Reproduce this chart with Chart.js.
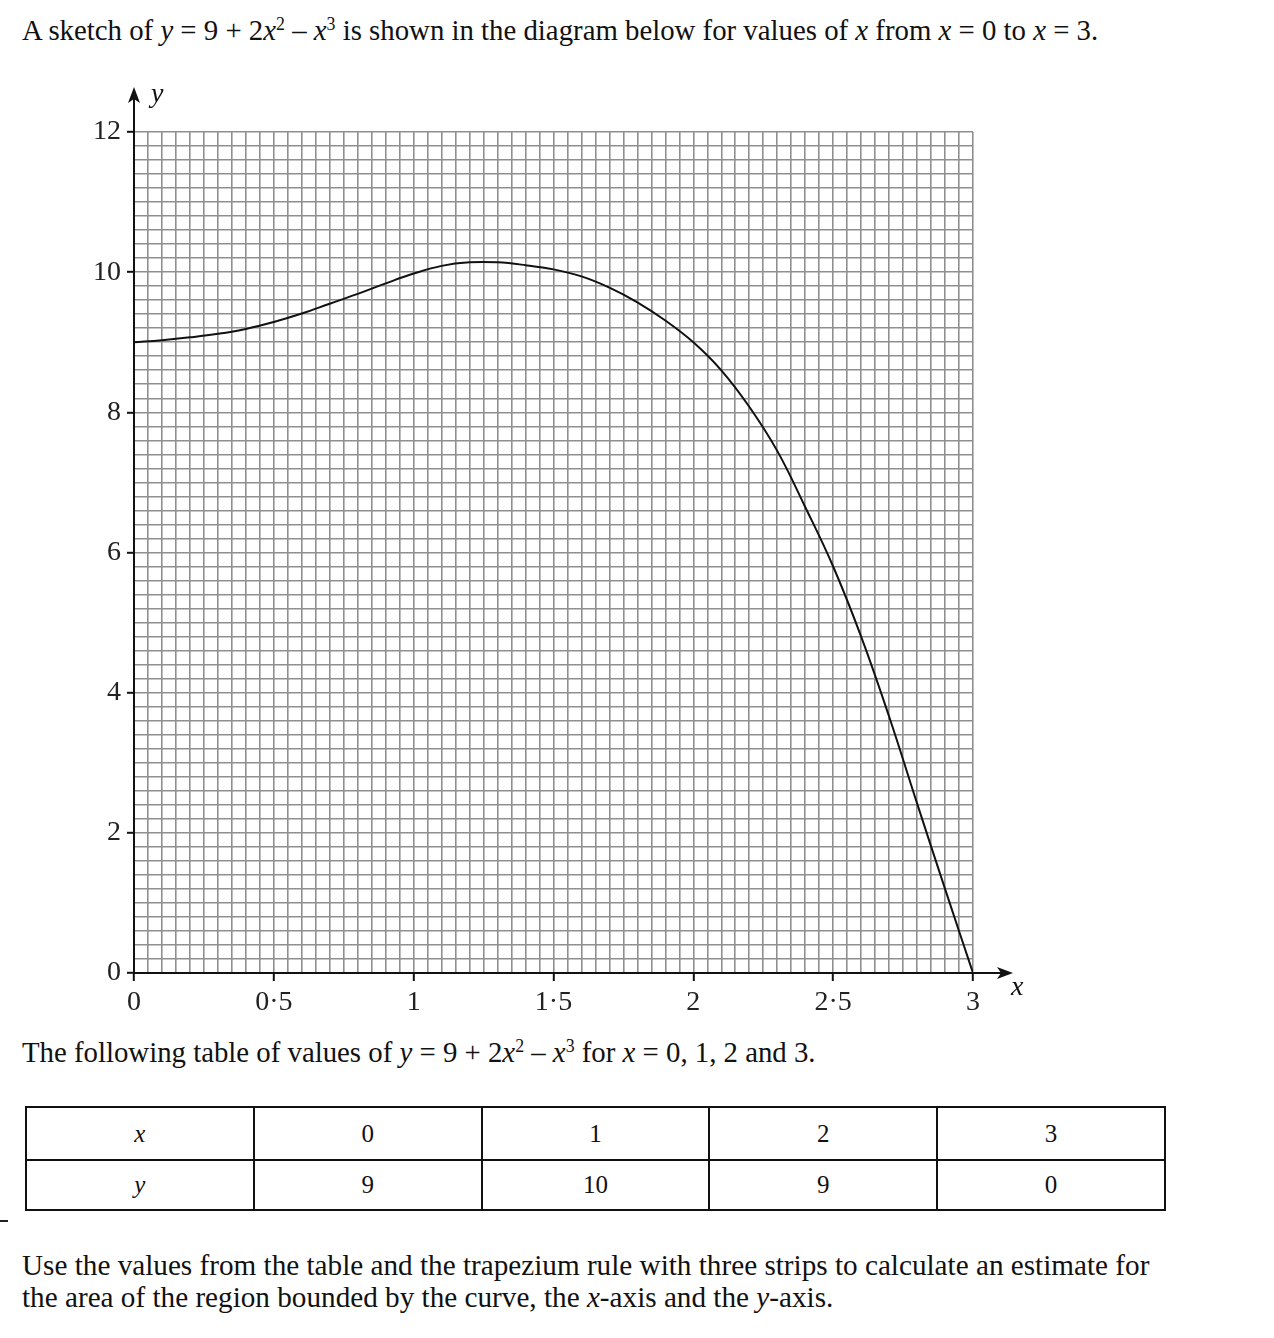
<!DOCTYPE html>
<html>
<head>
<meta charset="utf-8">
<script src="https://cdn.jsdelivr.net/npm/chart.js@4.4.1/dist/chart.umd.min.js"></script>
<style>
  body { margin: 0; background: #fff; width: 1274px; height: 1338px; position: relative; overflow: hidden;
         font-family: "Liberation Serif", "DejaVu Serif", serif; color: #111; }
  .txt { position: absolute; left: 22px; font-size: 28.8px; white-space: nowrap; line-height: 32px; }
  .txt i { font-style: italic; }
  sup { font-size: 0.62em; vertical-align: 0; position: relative; top: -0.55em; line-height: 0; }
  #wrap { position: absolute; left: 0; top: 80px; width: 1100px; height: 950px; }
  table { position: absolute; left: 25px; top: 1106px; width: 1141px; border-collapse: collapse;
          font-size: 25px; table-layout: fixed; }
  td { border: 2.5px solid #111; text-align: center; padding: 0; }
  tr.r1 td { height: 51px; }
  tr.r2 td { height: 48px; }
  #dash { position: absolute; left: 0; top: 1220px; width: 8px; height: 2px; background: #222; }
</style>
</head>
<body>
<div class="txt" style="top:14px">A sketch of <i>y</i> = 9 + 2<i>x</i><sup>2</sup> – <i>x</i><sup>3</sup> is shown in the diagram below for values of <i>x</i> from <i>x</i> = 0 to <i>x</i> = 3.</div>

<div id="wrap"><canvas id="curveChart" width="1100" height="950"></canvas></div>

<div class="txt" style="top:1036px">The following table of values of <i>y</i> = 9 + 2<i>x</i><sup>2</sup> – <i>x</i><sup>3</sup> for <i>x</i> = 0, 1, 2 and 3.</div>

<table id="valueTable"></table>
<div id="dash"></div>

<div class="txt" style="top:1249px; font-size:29.2px">Use the values from the table and the trapezium rule with three strips to calculate an estimate for</div>
<div class="txt" style="top:1281px; font-size:29.2px">the area of the region bounded by the curve, the <i>x</i>-axis and the <i>y</i>-axis.</div>

<script>
/* ---------- Data ---------- */
const xValues = [0, 0.1, 0.2, 0.3, 0.4, 0.5, 0.6, 0.7, 0.8, 0.9, 1.0,
                 1.1, 1.2, 1.3, 1.4, 1.5, 1.6, 1.7, 1.8, 1.9, 2.0,
                 2.1, 2.2, 2.3, 2.4, 2.5, 2.6, 2.7, 2.8, 2.9, 3.0];
const yValues = [9.0, 9.03, 9.07, 9.12, 9.19, 9.29, 9.41, 9.55, 9.69, 9.84, 9.98,
                 10.09, 10.14, 10.14, 10.1, 10.04, 9.94, 9.78, 9.57, 9.31, 9.0,
                 8.6, 8.08, 7.45, 6.65, 5.8, 4.8, 3.66, 2.42, 1.2, 0];

const tableX = ["0", "1", "2", "3"];
const tableY = ["9", "10", "9", "0"];

const xMin = 0, xMax = 3, xStep = 0.05, xLabelStep = 0.5;
const yMin = 0, yMax = 12, yStep = 0.2, yLabelStep = 2;

/* ---------- Table ---------- */
const table = document.getElementById("valueTable");
table.innerHTML =
    `<tr class="r1"><td><i>x</i></td>${tableX.map(v => `<td>${v}</td>`).join("")}</tr>` +
    `<tr class="r2"><td><i>y</i></td>${tableY.map(v => `<td>${v}</td>`).join("")}</tr>`;

/* ---------- Helpers ---------- */
function isMultiple(v, step) {
    const q = v / step;
    return Math.abs(q - Math.round(q)) < 1e-6;
}

function fmt(v) {
    const r = Math.round(v * 10) / 10;
    return String(r).replace(".", "·");
}

function arrowHead(ctx, x, y, dir) {
    ctx.beginPath();
    if (dir === "right") {
        ctx.moveTo(x, y);
        ctx.lineTo(x - 16, y - 6);
        ctx.lineTo(x - 12, y);
        ctx.lineTo(x - 16, y + 6);
    } else {
        ctx.moveTo(x, y);
        ctx.lineTo(x - 6, y + 16);
        ctx.lineTo(x, y + 12);
        ctx.lineTo(x + 6, y + 16);
    }
    ctx.closePath();
    ctx.fill();
}

/* ---------- Axes with arrows ---------- */
const axesPlugin = {
    id: "axesPlugin",
    afterDraw(chart) {
        const ctx = chart.ctx;
        const xs = chart.scales.x, ys = chart.scales.y;
        const x0 = xs.getPixelForValue(0), y0 = ys.getPixelForValue(0);
        const xEnd = xs.getPixelForValue(xMax) + 40;
        const yEnd = ys.getPixelForValue(yMax) - 45;

        ctx.save();
        ctx.strokeStyle = "#111";
        ctx.fillStyle = "#111";
        ctx.lineWidth = 2;
        ctx.beginPath();
        ctx.moveTo(x0, y0);
        ctx.lineTo(xEnd - 4, y0);
        ctx.moveTo(x0, y0);
        ctx.lineTo(x0, yEnd + 4);
        ctx.stroke();
        arrowHead(ctx, xEnd, y0, "right");
        arrowHead(ctx, x0, yEnd, "up");

        ctx.font = "italic 28px 'Liberation Serif'";
        ctx.textAlign = "left";
        ctx.textBaseline = "middle";
        ctx.fillText("x", xEnd - 2, y0 + 15);
        ctx.fillText("y", x0 + 17, yEnd + 8);
        ctx.restore();
    }
};

/* ---------- Chart ---------- */
const points = xValues.map((x, i) => ({ x: x, y: yValues[i] }));

new Chart(document.getElementById("curveChart"), {
    type: "line",
    data: {
        datasets: [{
            label: "y = 9 + 2x² − x³",
            data: points,
            borderColor: "#111",
            borderWidth: 2,
            pointRadius: 0,
            tension: 0.4,
            fill: false
        }]
    },
    options: {
        responsive: false,
        animation: false,
        devicePixelRatio: 1,
        layout: { padding: { top: 52, right: 127, left: 0, bottom: 0 } },
        plugins: { legend: { display: false }, tooltip: { enabled: false } },
        scales: {
            x: {
                type: "linear",
                min: xMin,
                max: xMax,
                afterFit(scale) { scale.height = 57; },
                border: { display: false },
                grid: {
                    color: "#8f8f8f",
                    lineWidth: 1.6,
                    drawTicks: true,
                    tickLength: 8,
                    tickWidth: 2,
                    tickColor: c => (c.tick && isMultiple(c.tick.value, xLabelStep)) ? "#111" : "rgba(0,0,0,0)"
                },
                ticks: {
                    stepSize: xStep,
                    autoSkip: false,
                    maxRotation: 0,
                    padding: 5,
                    color: "#222",
                    font: { family: "'Liberation Serif'", size: 28 },
                    callback: v => isMultiple(v, xLabelStep) ? fmt(v) : ""
                }
            },
            y: {
                type: "linear",
                min: yMin,
                max: yMax,
                afterFit(scale) { scale.width = 134; },
                border: { display: false },
                grid: {
                    color: "#8f8f8f",
                    lineWidth: 1.6,
                    drawTicks: true,
                    tickLength: 7,
                    tickWidth: 2,
                    tickColor: c => (c.tick && isMultiple(c.tick.value, yLabelStep)) ? "#111" : "rgba(0,0,0,0)"
                },
                ticks: {
                    stepSize: yStep,
                    autoSkip: false,
                    padding: 6,
                    color: "#222",
                    font: { family: "'Liberation Serif'", size: 28 },
                    callback: v => isMultiple(v, yLabelStep) ? fmt(v) : ""
                }
            }
        }
    },
    plugins: [axesPlugin]
});
</script>
</body>
</html>
